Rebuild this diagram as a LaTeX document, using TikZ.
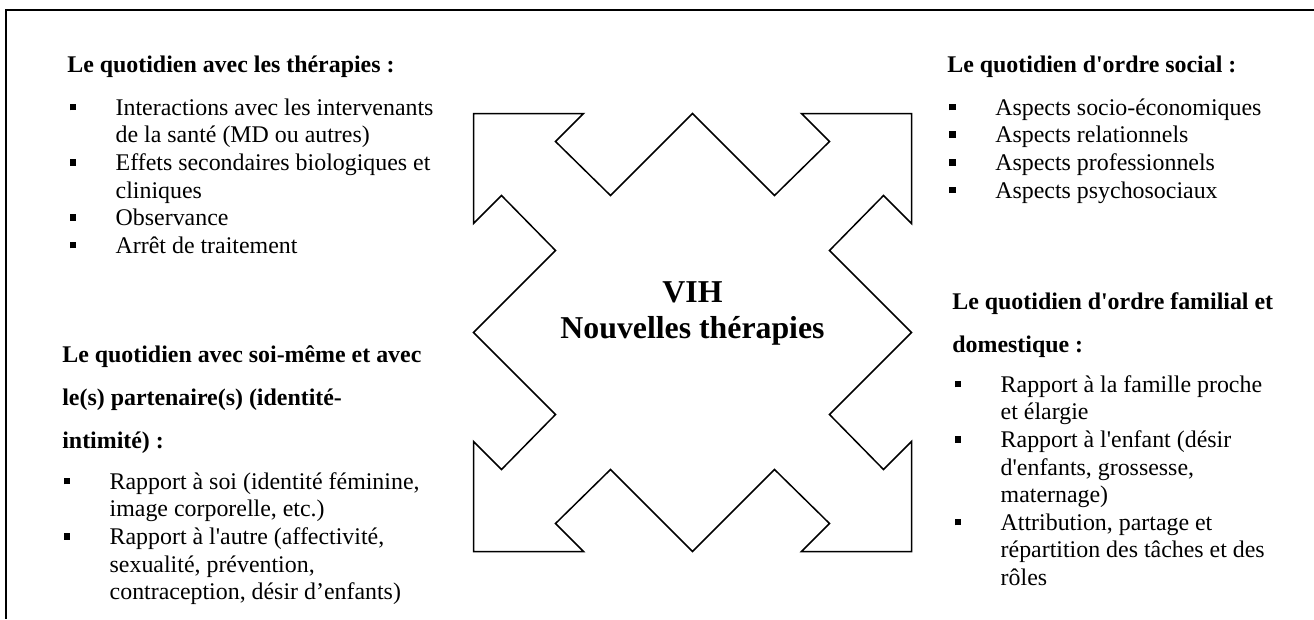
\documentclass[tikz,border=0pt]{standalone}
\usepackage{fontspec}
\setmainfont{Liberation Serif}[Ligatures=TeXOff]
\usetikzlibrary{matrix}
\usetikzlibrary{positioning}

\newcommand{\puce}{\rule[0.1cm]{0.13cm}{0.13cm}}

\tikzset{
titre/.style={anchor=base west, inner sep=0, align=left,
  font=\bfseries\fontsize{13.6}{24.2}\selectfont},
liste/.style={matrix of nodes, anchor=north west, inner sep=0, row sep=0,
  column sep={0.92cm,between origins},
  nodes={anchor=base west, inner sep=0, text height=0.40cm, text depth=0.152cm,
    font=\fontsize{13.6}{15.7}\selectfont}},
centre/.style={align=center, inner sep=0,
  font=\bfseries\fontsize{18.1}{20.5}\selectfont},
}

\begin{document}
\begin{tikzpicture}[x=0.02cm, y=-0.02cm]
\useasboundingbox (0,0) rectangle (1314,619);
% cadre
\draw[line width=1.1pt] (1314,10) -- (6,10) -- (6,619);

% les quatre fleches
\begin{scope}[shift={(692.5,332.5)}, line width=0.85pt]
\draw (-219,-219) -- (-109,-219) -- (-137,-191) -- (-82,-137) -- (0,-219)
  -- (82,-137) -- (137,-191) -- (109,-219) -- (219,-219) -- (219,-109)
  -- (191,-137) -- (137,-82) -- (219,0) -- (137,82) -- (191,137)
  -- (219,109) -- (219,219) -- (109,219) -- (137,191) -- (82,137)
  -- (0,219) -- (-82,137) -- (-137,191) -- (-109,219) -- (-219,219)
  -- (-219,109) -- (-191,137) -- (-137,82) -- (-219,0) -- (-137,-82)
  -- (-191,-137) -- (-219,-109) -- cycle;
\end{scope}
\node[centre] (vih) at (692.5,313) {VIH\\Nouvelles thérapies};

% haut gauche
\node[titre] (tTL) at (67,72) {Le quotidien avec les thérapies :};
\matrix[liste] (lTL) at (69,95) {
\puce & Interactions avec les intervenants \\
      & de la santé (MD ou autres) \\
\puce & Effets secondaires biologiques et \\
      & cliniques \\
\puce & Observance \\
\puce & Arrêt de traitement \\
};

% haut droite
\node[titre] (tTR) at (947,72) {Le quotidien d'ordre social :};
\matrix[liste] (lTR) at (949,95) {
\puce & Aspects socio-économiques \\
\puce & Aspects relationnels \\
\puce & Aspects professionnels \\
\puce & Aspects psychosociaux \\
};

% bas gauche
\node[titre] (tBL) at (62,448) {Le quotidien avec soi-même et avec\\le(s) partenaire(s) (identité-\\intimité) :};
\matrix[liste] (lBL) at (63,469) {
\puce & Rapport à soi (identité féminine, \\
      & image corporelle, etc.) \\
\puce & Rapport à l'autre (affectivité, \\
      & sexualité, prévention, \\
      & contraception, désir d’enfants) \\
};

% bas droite
\node[titre] (tBR) at (952,352) {Le quotidien d'ordre familial et\\domestique :};
\matrix[liste] (lBR) at (954,372) {
\puce & Rapport à la famille proche \\
      & et élargie \\
\puce & Rapport à l'enfant (désir \\
      & d'enfants, grossesse, \\
      & maternage) \\
\puce & Attribution, partage et \\
      & répartition des tâches et des \\
      & rôles \\
};
\end{tikzpicture}
\end{document}
